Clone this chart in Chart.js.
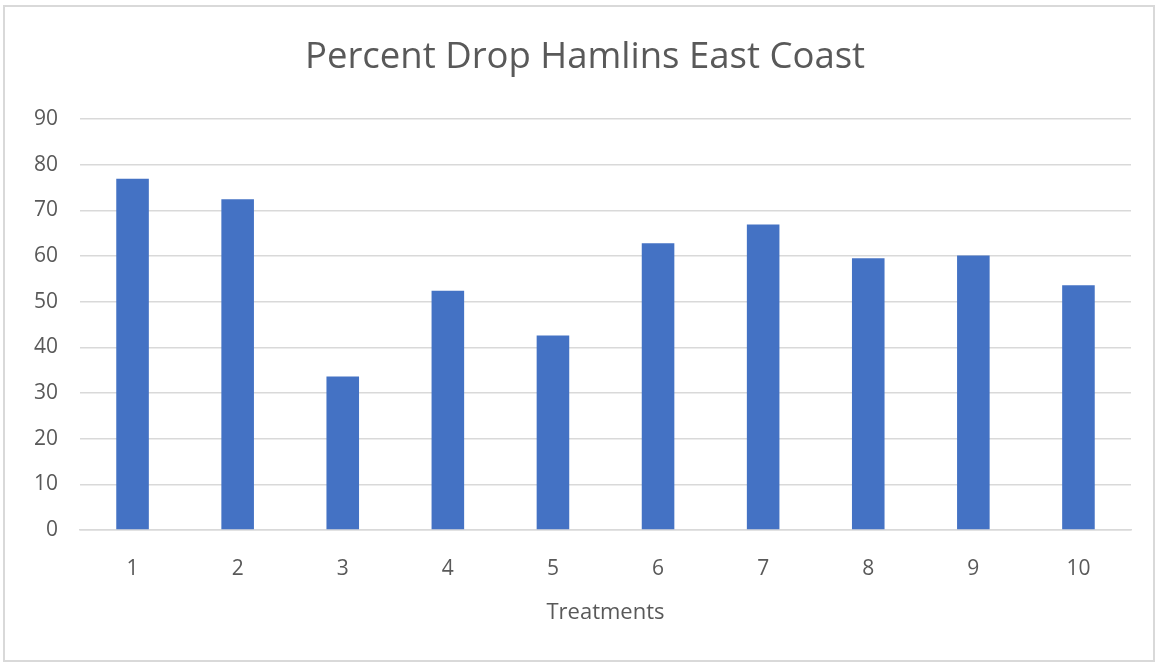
<!DOCTYPE html>
<html>
<head>
<meta charset="utf-8">
<script src="https://cdn.jsdelivr.net/npm/chart.js@4"></script>
<style>
  html, body { margin: 0; padding: 0; background: #ffffff; }
  #wrap { position: relative; width: 1157px; height: 665px; }
  #frame { position: absolute; left: 3px; top: 5px; width: 1152px; height: 657px;
           border: 2px solid #d9d9d9; box-sizing: border-box; pointer-events: none; }
  canvas { display: block; }
</style>
</head>
<body>
<div id="wrap">
  <canvas id="c" width="1157" height="665"></canvas>
  <div id="frame"></div>
</div>
<script>
// Treatments on the category axis
const treatments = ['1', '2', '3', '4', '5', '6', '7', '8', '9', '10'];
// Percent drop per treatment
const percentDrop = [76.9, 72.4, 33.6, 52.4, 42.6, 62.8, 66.9, 59.5, 60.1, 53.6];
// Value axis range
const yTicks = [0, 10, 20, 30, 40, 50, 60, 70, 80, 90];

const textColor = '#595959';
const fontFamily = '"Open Sans", "Liberation Sans", sans-serif';

new Chart(document.getElementById('c'), {
  type: 'bar',
  data: {
    labels: treatments,
    datasets: [{
      label: 'Percent Drop',
      data: percentDrop,
      backgroundColor: '#4472C4',
      borderWidth: 0,
      barPercentage: 0.31,
      categoryPercentage: 1.0
    }]
  },
  options: {
    responsive: false,
    animation: false,
    layout: { padding: { left: 13, right: 0, top: 0, bottom: 0 } },
    plugins: {
      legend: { display: false },
      tooltip: { enabled: false },
      title: {
        display: true,
        text: 'Percent Drop Hamlins East Coast',
        color: textColor,
        font: { family: fontFamily, size: 36.5, weight: 'normal', lineHeight: 1.2 },
        padding: { top: 36, bottom: 39.2 }
      }
    },
    scales: {
      x: {
        grid: { display: false, drawTicks: false },
        border: { display: true, color: '#d9d9d9', width: 1.5 },
        ticks: { color: textColor, font: { family: fontFamily, size: 21, lineHeight: 1.2 }, padding: 26 },
        title: {
          display: true,
          text: 'Treatments',
          color: textColor,
          font: { family: fontFamily, size: 22, lineHeight: 1.2 },
          padding: { top: 10, bottom: 39 }
        },
        afterFit: (scale) => { scale.height = 135; }
      },
      y: {
        min: yTicks[0],
        max: yTicks[yTicks.length - 1],
        grid: { color: '#d9d9d9', lineWidth: 1.5, drawTicks: false },
        border: { display: false },
        ticks: {
          stepSize: yTicks[1] - yTicks[0],
          color: textColor,
          font: { family: fontFamily, size: 21, lineHeight: 1.2 },
          padding: 22
        },
        afterFit: (scale) => { scale.width = 67; }
      },
      // empty right-hand margin of the plot
      gutter: {
        position: 'right',
        grid: { display: false, drawTicks: false },
        border: { display: false },
        ticks: { display: false },
        afterFit: (scale) => { scale.width = 26; }
      }
    }
  }
});
</script>
</body>
</html>
